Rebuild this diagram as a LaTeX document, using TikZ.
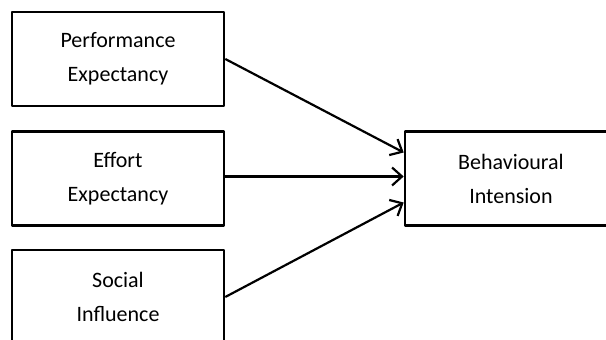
\documentclass[tikz,border=0pt]{standalone}
\usepackage{fontspec}
\setmainfont{Carlito}
\usetikzlibrary{arrows.meta}
\begin{document}
\begin{tikzpicture}[x=0.5pt, y=-0.5pt, font=\fontsize{11pt}{17pt}\selectfont, line join=round, >={Straight Barb[length=5pt,width=9pt]}]
			\tikzset{box/.style={draw, line width=1.3pt, minimum width=106pt, minimum height=47pt, inner sep=0pt, align=center}}
			\useasboundingbox (0,0) rectangle (606,340);
			\foreach\n/\y/\t in {pe/59/{Performance\\Expectancy},ee/178.5/{Effort\\Expectancy},si/297/{Social\\Influence}}
			{\node[box] (\n) at (118,\y) {\t};
			}
			\node[box] (bi) at (511,178.5) {Behavioural\\Intension};
			\draw[->, line width=1.1pt] (pe.east)--([yshift=13pt]bi.west);
			\draw[->, line width=1.1pt] ([yshift=1pt]ee.east)--([yshift=1pt]bi.west);
			\draw[->, line width=1.1pt] (si.east)--([yshift=-12pt]bi.west);
		\end{tikzpicture}
\end{document}
